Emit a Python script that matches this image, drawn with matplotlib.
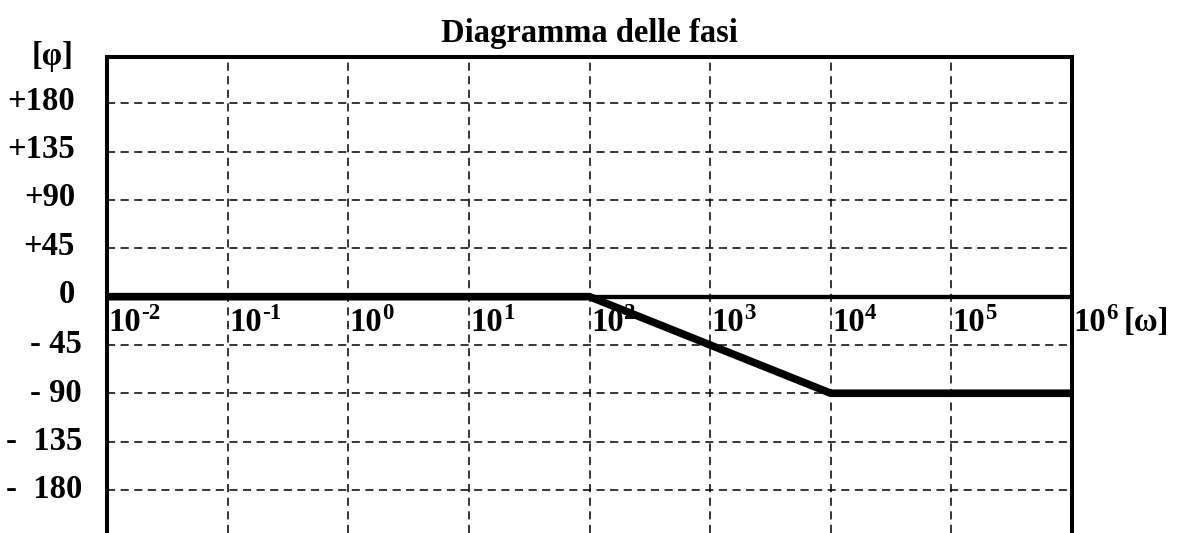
import matplotlib
matplotlib.use("Agg")
import matplotlib.pyplot as plt

plt.rcParams['font.family'] = ['Liberation Serif', 'DejaVu Serif']
plt.rcParams['font.weight'] = 'bold'

# phase diagram data (asymptotic Bode plot)
omega = [1e-2, 1e2, 1e4, 1e6]
phase = [0, 0, -90, -90]

x_decades = [-2, -1, 0, 1, 2, 3, 4, 5, 6]
y_ticks = [180, 135, 90, 45, 0, -45, -90, -135, -180]
y_labels = ['+180', '+135', '+90', '+45', '0', '- 45', '- 90', '-  135', '-  180']

fs = 23.5
fs_sup = 16.5
W, H = 1177, 533

fig = plt.figure(figsize=(W / 100, H / 100), dpi=100)
ax = fig.add_axes([107 / W, 0, (1072 - 107) / W, (533 - 57) / H])

ax.set_xscale('log')
ax.set_xlim(1e-2, 1e6)
ax.set_ylim(-220.2, 223.3)

# dashed grid
for d in x_decades[1:-1]:
    ax.axvline(10.0 ** d, color='black', lw=1.1, ls=(0, (5.3, 3.6)), zorder=1)
for y in y_ticks:
    if y != 0:
        ax.axhline(y, color='black', lw=1.1, ls=(0, (5.3, 3.6)), zorder=1)

# zero axis
ax.axhline(0, color='black', lw=3.1, zorder=2)

# phase curve
ax.plot(omega, phase, color='black', lw=5.5, solid_capstyle='butt', zorder=3)

for side in ['left', 'right', 'top']:
    ax.spines[side].set_linewidth(2.9)
ax.spines['bottom'].set_visible(False)

ax.set_xticks([])
ax.set_yticks([])
ax.minorticks_off()

ytr = ax.get_yaxis_transform()
for y, lab in zip(y_ticks, y_labels):
    # negative labels sit a bit further right, as in the original
    off = (-18, 0) if y < 0 else (-23, 1.5)
    ax.annotate(lab, xy=(0, y), xycoords=ytr, xytext=off, textcoords='offset points',
                ha='right', va='center', fontsize=fs, fontweight='bold', annotation_clip=False)

# decade labels just under the zero axis: "10" plus a raised exponent
for d in x_decades:
    ax.annotate('10', xy=(10.0 ** d, 0), xytext=(1, -7.8), textcoords='offset points',
                ha='left', va='top', fontsize=fs, fontweight='bold', annotation_clip=False)
    ax.annotate(str(d), xy=(10.0 ** d, 0), xytext=(24.5, -4.3), textcoords='offset points',
                ha='left', va='top', fontsize=fs_sup, fontweight='bold', annotation_clip=False)
ax.annotate('[ω]', xy=(10.0 ** x_decades[-1], 0), xytext=(37, -7.3), textcoords='offset points',
            ha='left', va='top', fontsize=fs, fontweight='bold', annotation_clip=False)

ax.annotate('[φ]', xy=(0, 223.3), xycoords=ytr,
            xytext=(-24, 0), textcoords='offset points',
            ha='right', va='center', fontsize=fs, fontweight='bold', annotation_clip=False)

ax.set_title('Diagramma delle fasi', fontsize=fs, fontweight='bold', pad=11)

fig.savefig('out.png', dpi=100)
